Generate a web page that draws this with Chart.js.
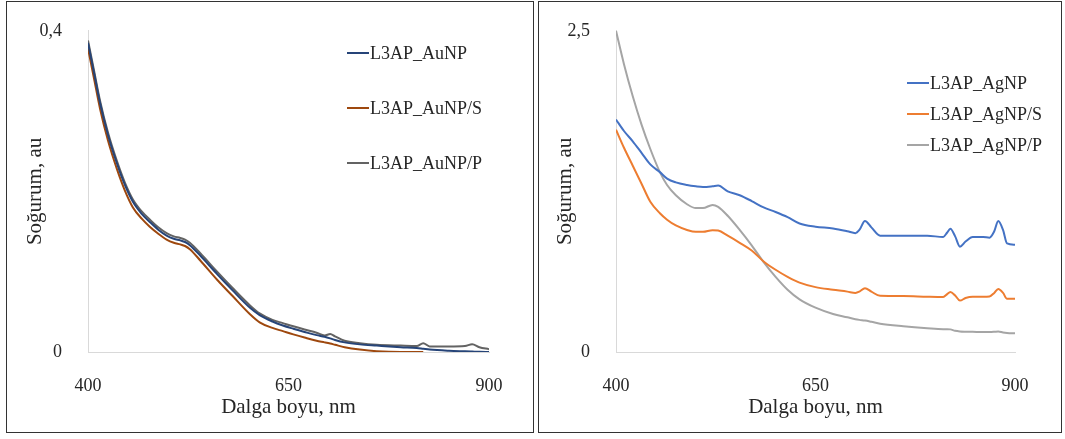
<!DOCTYPE html>
<html lang="tr">
<head>
<meta charset="utf-8">
<title>Soğurum spektrumları</title>
<script src="https://cdn.jsdelivr.net/npm/chart.js@4.4.1/dist/chart.umd.min.js"></script>
<style>
  html, body { margin:0; padding:0; background:#fff; }
  body { width:1065px; height:439px; position:relative; overflow:hidden; font-family:"Liberation Serif","Times New Roman",serif; }
  .pannello { position:absolute; top:1px; height:432px; box-sizing:border-box; border:1px solid #333; }
  #p-au { left:6px; width:528px; }
  #p-ag { left:538px; width:524px; }
  .pannello canvas { position:absolute; left:0; top:0; }
  .legenda { position:absolute; margin:0; padding:0; list-style:none; font-size:18px; color:#262626; }
  .legenda li { position:absolute; left:0; height:22px; display:flex; align-items:center; white-space:nowrap; }
  .legenda .segno { display:inline-block; width:22px; height:2px; margin-right:1px; }
</style>
</head>
<body>
<div class="pannello" id="p-au"><canvas id="chartAu" width="526" height="430"></canvas></div>
<div class="pannello" id="p-ag"><canvas id="chartAg" width="522" height="430"></canvas></div>
<script>
// --- AuNP spectra (nm / au)
const lamAu  = [400,408,415,425,436,446,456,467,477,488,498,507,515,521,527,540,561,580,602,614,630,643,656,670,685,695,702,708,720,739,760,790,810,818,826,850,870,879,888,900];
const auNP   = [0.385,0.345,0.31,0.27,0.235,0.208,0.187,0.172,0.162,0.152,0.145,0.141,0.139,0.137,0.133,0.12,0.097,0.077,0.055,0.046,0.038,0.033,0.029,0.025,0.021,0.019,0.017,0.015,0.012,0.0095,0.008,0.006,0.005,0.004,0.003,0.0015,0.0008,0.0005,0.0002,0];
const auNPS  = [0.378,0.338,0.303,0.263,0.228,0.201,0.18,0.166,0.156,0.147,0.14,0.136,0.134,0.132,0.128,0.114,0.09,0.07,0.047,0.037,0.03,0.026,0.022,0.018,0.014,0.012,0.0105,0.009,0.006,0.003,0.001,0,0,0]; // ends at 818 nm
const auNPP  = [0.388,0.348,0.313,0.273,0.238,0.211,0.19,0.175,0.165,0.155,0.148,0.144,0.142,0.14,0.136,0.123,0.1,0.08,0.058,0.048,0.04,0.036,0.032,0.028,0.024,0.0205,0.0225,0.0195,0.014,0.011,0.009,0.008,0.0075,0.011,0.007,0.007,0.0075,0.0097,0.006,0.0035];

// --- AgNP spectra
const lamAg  = [400,410,421,432,443,455,464,475,489,500,509,521,528,540,555,570,585,600,615,630,650,672,690,700,705,712,720,731,760,790,810,815,819,825,831,838,847,860,868,874,879,885,890,900];
const agNP   = [1.81,1.72,1.64,1.55,1.46,1.40,1.35,1.32,1.30,1.29,1.285,1.29,1.295,1.25,1.22,1.175,1.125,1.09,1.05,1.00,0.975,0.962,0.94,0.925,0.95,1.02,0.97,0.905,0.905,0.905,0.895,0.93,0.96,0.90,0.82,0.86,0.895,0.895,0.89,0.94,1.02,0.95,0.845,0.835];
const agNPS  = [1.73,1.59,1.45,1.31,1.17,1.08,1.03,0.985,0.95,0.935,0.935,0.948,0.945,0.905,0.85,0.79,0.705,0.64,0.585,0.54,0.505,0.485,0.47,0.46,0.47,0.497,0.47,0.437,0.435,0.43,0.428,0.45,0.467,0.44,0.40,0.42,0.43,0.43,0.432,0.46,0.49,0.46,0.414,0.414];
const agNPP  = [2.5,2.24,1.99,1.77,1.58,1.40,1.30,1.22,1.15,1.12,1.12,1.145,1.13,1.06,0.95,0.83,0.70,0.585,0.485,0.41,0.345,0.296,0.27,0.255,0.25,0.245,0.235,0.22,0.20,0.185,0.178,0.178,0.176,0.165,0.16,0.158,0.157,0.155,0.155,0.157,0.16,0.152,0.148,0.145];

// axis ticks
const xTicks  = [400, 650, 900];
const yMaxAu  = 0.4;
const yMaxAg  = 2.5;

const xTitle = 'Dalga boyu, nm';
const yTitle = 'Soğurum, au';

const SERIF = '"Liberation Serif", "Times New Roman", serif';
Chart.defaults.font.family = SERIF;
Chart.defaults.color = '#262626';

const punti = (lam, vals) => vals.map((v, i) => ({ x: lam[i], y: v })); // {x,y} pairs for the linear x scale

function serie(label, lam, vals, color){
  return {
    label, data: punti(lam, vals), borderColor: color, backgroundColor: color,
    borderWidth: 2, pointRadius: 0, cubicInterpolationMode: 'monotone', fill: false
  };
}

function grafico(id, datasets, yMax, box){ // box = plot placement inside the canvas
  return new Chart(document.getElementById(id), {
    type: 'line',
    data: { datasets },
    options: {
      responsive: false, animation: false,
      layout: { padding: { top: box.top, right: box.right, left: 0, bottom: 0 } },
      plugins: { legend: { display: false }, tooltip: { enabled: false } },
      scales: {
        x: {
          type: 'linear', min: xTicks[0], max: xTicks[xTicks.length - 1],
          afterBuildTicks: a => { a.ticks = xTicks.map(v => ({ value: v })); },
          afterFit: a => { a.height = box.bottom; },
          grid: { display: false },
          border: { display: true, color: '#d9d9d9', width: 1 },
          ticks: { font: { family: SERIF, size: 18 }, padding: 15, maxRotation: 0 },
          title: { display: true, text: xTitle, color: '#262626', font: { family: SERIF, size: 21 }, padding: { top: 0, bottom: 12 } }
        },
        y: {
          min: 0, max: yMax,
          afterBuildTicks: a => { a.ticks = [0, yMax].map(v => ({ value: v })); },
          afterFit: a => { a.width = box.left; },
          grid: { display: false },
          border: { display: true, color: '#d9d9d9', width: 1 },
          ticks: { font: { family: SERIF, size: 18 }, padding: 18, callback: v => String(v).replace('.', ',') },
          title: { display: true, text: yTitle, color: '#262626', font: { family: SERIF, size: 21 }, padding: { top: box.titlePad, bottom: 0 } }
        }
      }
    }
  });
}

function legenda(panelId, chart, pos){ // legend in HTML, next to the curves
  const ul = document.createElement('ul');
  ul.className = 'legenda';
  ul.style.left = pos.left + 'px';
  ul.style.top = pos.top + 'px';
  chart.data.datasets.forEach((d, i) => {
    const li = document.createElement('li');
    li.style.top = (i * pos.gap) + 'px';
    const segno = document.createElement('span');
    segno.className = 'segno';
    segno.style.background = d.borderColor;
    const testo = document.createElement('span');
    testo.textContent = d.label;
    li.append(segno, testo);
    ul.appendChild(li);
  });
  document.getElementById(panelId).appendChild(ul);
}

const chAu = grafico('chartAu', [
  serie('L3AP_AuNP',   lamAu, auNP,  '#264478'),
  serie('L3AP_AuNP/S', lamAu, auNPS, '#9E480E'),
  serie('L3AP_AuNP/P', lamAu, auNPP, '#636363')
], yMaxAu, { left: 81, right: 44, top: 19, bottom: 80, titlePad: 16 });

const chAg = grafico('chartAg', [
  serie('L3AP_AgNP',   lamAg, agNP,  '#4472C4'),
  serie('L3AP_AgNP/S', lamAg, agNPS, '#ED7D31'),
  serie('L3AP_AgNP/P', lamAg, agNPP, '#A5A5A5')
], yMaxAg, { left: 77, right: 46, top: 18, bottom: 80, titlePad: 14 });

legenda('p-au', chAu, { left: 340, top: 40, gap: 55 });
legenda('p-ag', chAg, { left: 368, top: 70, gap: 31 });
</script>
</body>
</html>
